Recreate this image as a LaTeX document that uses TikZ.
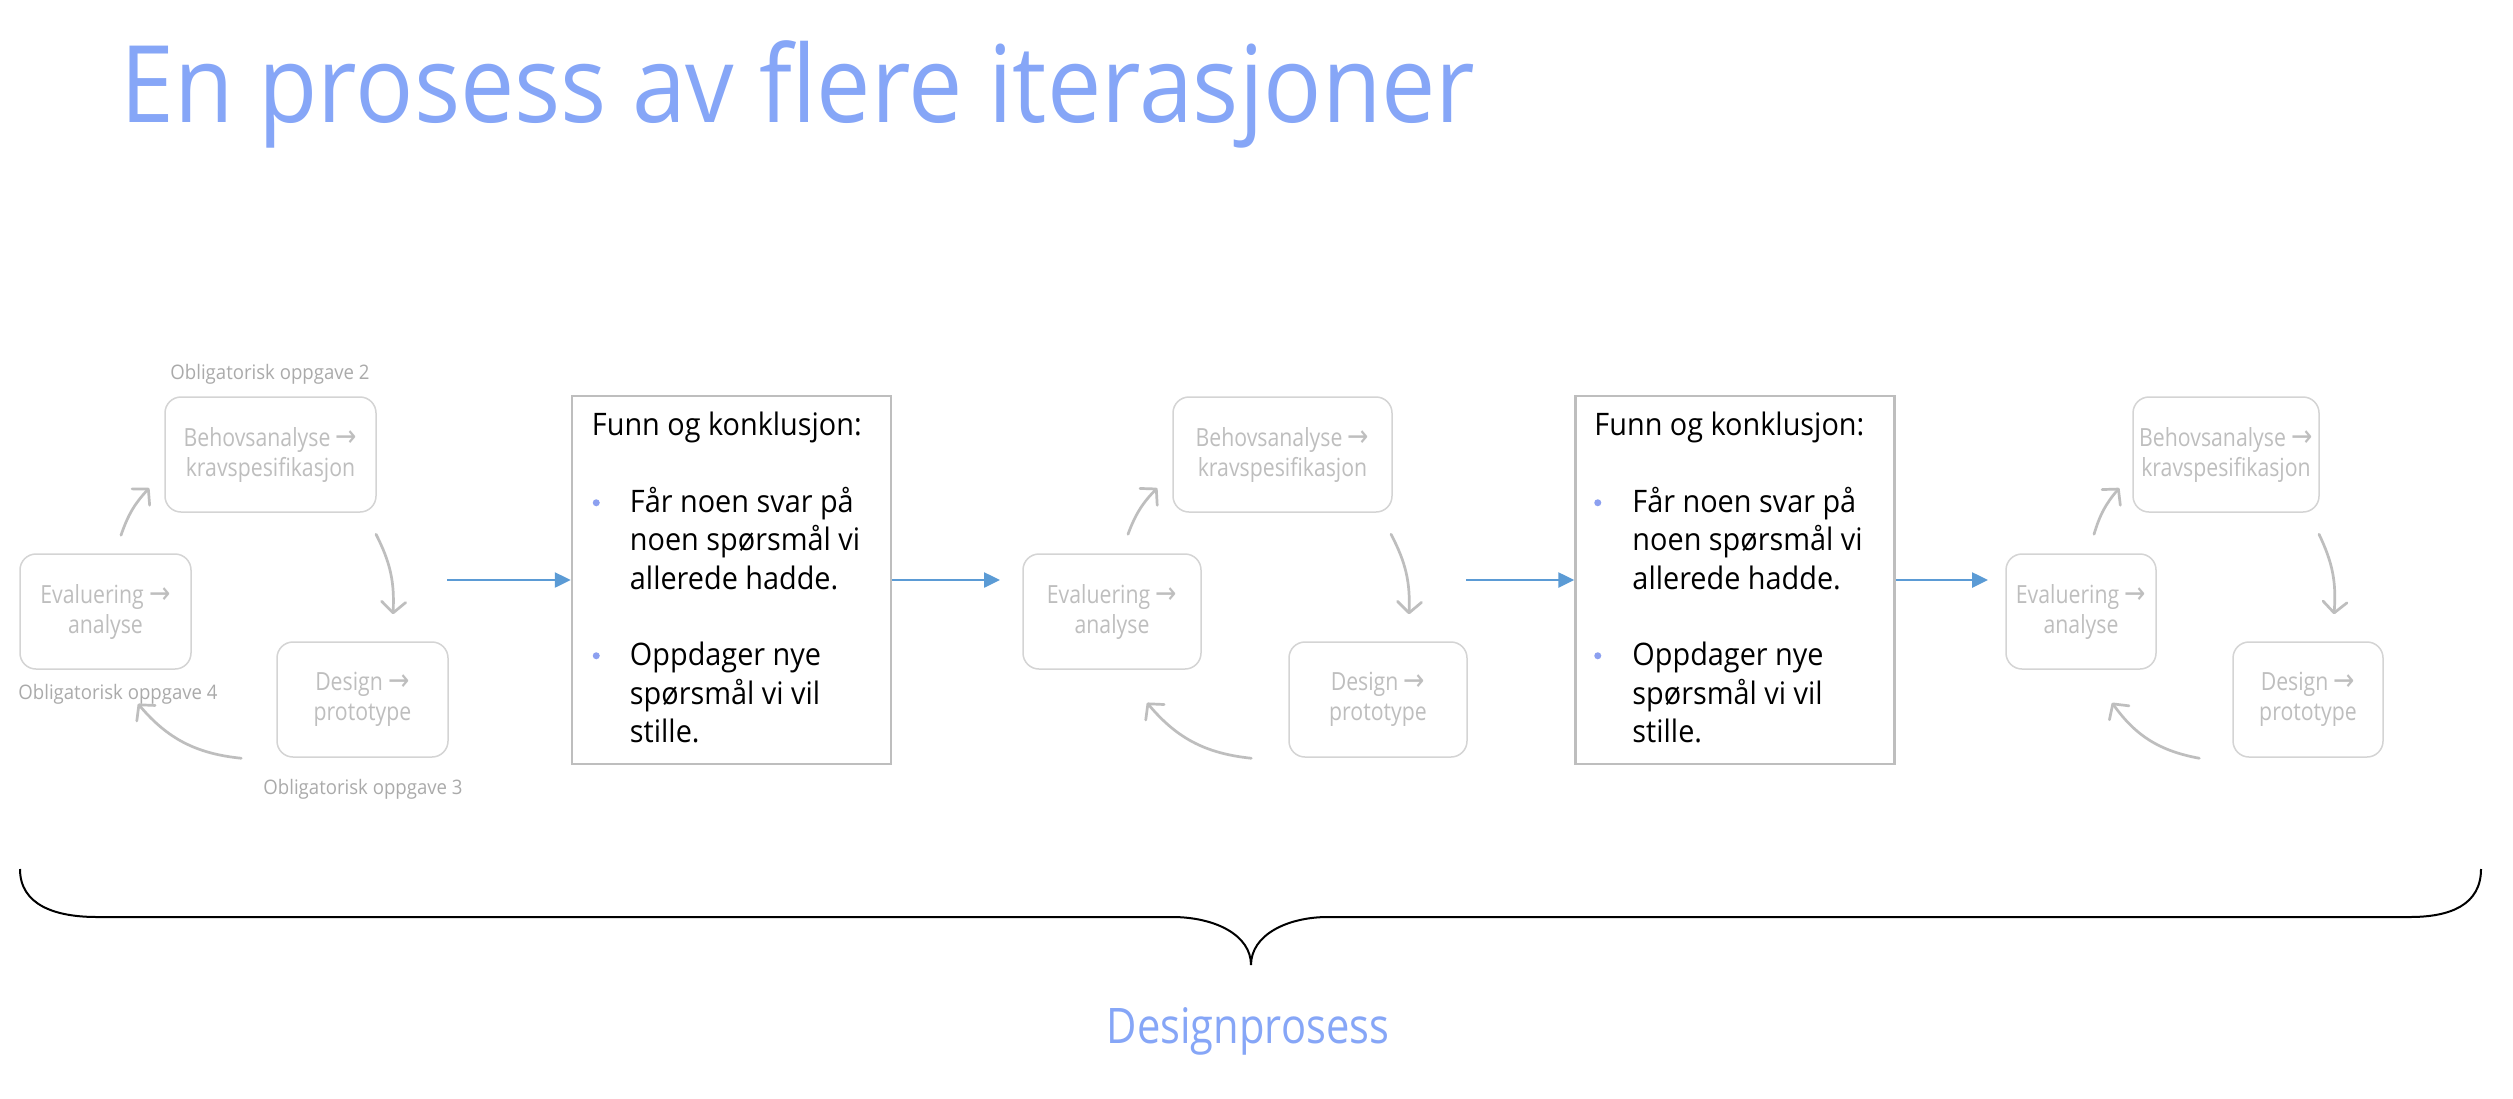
\documentclass[tikz,border=0pt]{standalone}
\usepackage{fontspec}
\setmainfont{Open Sans}[FakeStretch=0.93]
\newfontfamily\lightfont{Open Sans}[FakeStretch=0.85]
\newfontfamily\titlefont{Open Sans}[FakeStretch=0.905]
\newfontfamily\arrowfont{DejaVu Sans}[FakeStretch=0.85]
\usetikzlibrary{arrows.meta,calc}

\definecolor{titleblue}{RGB}{134,166,247}
\definecolor{flowblue}{RGB}{91,155,213}
\definecolor{bulletblue}{RGB}{140,160,240}
\definecolor{boxgray}{RGB}{212,212,212}
\definecolor{textgray}{RGB}{190,190,190}
\definecolor{labelgray}{RGB}{170,170,170}
\definecolor{arrowgray}{RGB}{190,190,190}
\definecolor{funngray}{RGB}{190,190,190}

\newcommand{\ra}{{\arrowfont\fontsize{30}{30}\selectfont →}}
\newcommand{\ind}{\hspace*{38pt}}

\begin{document}
\begin{tikzpicture}[x=1pt,y=-1pt,
  cyclebox/.style={draw=boxgray, line width=1.5pt, rounded corners=16pt,
    minimum height=115pt, inner sep=0pt, text=textgray, align=center,
    font=\lightfont\fontsize{25}{30}\selectfont},
  cyclelabel/.style={text=labelgray, anchor=base, inner sep=0pt,
    font=\fontsize{20}{24}\selectfont},
  cyclearrow/.style={draw=arrowgray, line width=2.7pt, line cap=round,
    -{Straight Barb[length=11pt,width=24pt,round]}},
  flowarrow/.style={draw=flowblue, line width=2.5pt,
    -{Triangle[length=16pt,width=15pt]}},
  funnbox/.style={draw=funngray, line width=2.5pt, minimum width=319pt,
    minimum height=368pt, inner sep=0pt},
  funntext/.style={anchor=base west, inner sep=0pt, align=left,
    font=\fontsize{31}{38.4}\selectfont},
  bulletdot/.style={fill=bulletblue},
  ]
\fill[white] (0,0) rectangle (2513,1098);
\useasboundingbox (0,0) rectangle (2513,1098);

% heading
\node[anchor=base west, inner sep=0pt, text=titleblue,
  font=\titlefont\fontsize{107}{112}\selectfont] (title) at (120,122)
  {En prosess av flere iterasjoner};

% first cycle
\node[cyclebox, minimum width=171pt] (e1) at (105.5,611.5) {Evaluering \ra\\analyse};
\node[cyclebox, minimum width=211pt] (b1) at (270.5,454.5) {Behovsanalyse \ra\\kravspesifikasjon};
\node[cyclebox, minimum width=171pt] (d1) at (362.5,699.5) {Design \ra\\prototype};
\node[cyclelabel] (l2) at (270,379) {Obligatorisk oppgave 2};
\node[cyclelabel] (l4) at (118,699) {Obligatorisk oppgave 4};
\node[cyclelabel] (l3) at (363,794) {Obligatorisk oppgave 3};

\coordinate (e1o) at ($(e1.north)+(15.5,-18)$);
\coordinate (b1i) at ($(b1.west)+(-15,33.5)$);
\coordinate (b1o) at ($(b1.south)+(105.5,21.5)$);
\coordinate (d1i) at ($(d1.north)+(30.5,-27)$);
\coordinate (d1o) at ($(d1.south west)+(-35,0.5)$);
\coordinate (e1i) at ($(e1.south)+(32.5,34)$);
\draw[cyclearrow] (e1o) to[bend left=12] (b1i);
\draw[cyclearrow] (b1o) to[bend left=15] (d1i);
\draw[cyclearrow] (d1o) to[bend left=22] (e1i);

% first findings box
\node[funnbox] (f1) at (731.5,580) {};
\node[funntext] (f1t) at ($(f1.north west)+(21,347.9)$)
  {Funn og konklusjon:\\[38.4pt]
   \ind Får noen svar på\\
   \ind noen spørsmål vi\\
   \ind allerede hadde.\\[38.4pt]
   \ind Oppdager nye\\
   \ind spørsmål vi vil\\
   \ind stille.};
\fill[bulletdot] ($(f1.north west)+(25.5,108)$) circle (3.5pt);
\fill[bulletdot] ($(f1.north west)+(25.5,261)$) circle (3.5pt);

% second cycle
\node[cyclebox, minimum width=178pt] (e2) at (1112,611.5) {Evaluering \ra\\analyse};
\node[cyclebox, minimum width=219pt] (b2) at (1282.5,454.5) {Behovsanalyse \ra\\kravspesifikasjon};
\node[cyclebox, minimum width=178pt] (d2) at (1378,699.5) {Design \ra\\prototype};

\coordinate (e2o) at ($(e2.north)+(16,-19)$);
\coordinate (b2i) at ($(b2.west)+(-15,33.5)$);
\coordinate (b2o) at ($(b2.south)+(108.5,21.5)$);
\coordinate (d2i) at ($(d2.north)+(31,-27)$);
\coordinate (d2o) at ($(d2.south west)+(-37,0.5)$);
\coordinate (e2i) at ($(e2.south)+(35,33)$);
\draw[cyclearrow] (e2o) to[bend left=12] (b2i);
\draw[cyclearrow] (b2o) to[bend left=15] (d2i);
\draw[cyclearrow] (d2o) to[bend left=22] (e2i);

% second findings box
\node[funnbox] (f2) at (1735,580) {};
\node[funntext] (f2t) at ($(f2.north west)+(20,347.9)$)
  {Funn og konklusjon:\\[38.4pt]
   \ind Får noen svar på\\
   \ind noen spørsmål vi\\
   \ind allerede hadde.\\[38.4pt]
   \ind Oppdager nye\\
   \ind spørsmål vi vil\\
   \ind stille.};
\fill[bulletdot] ($(f2.north west)+(23.5,108)$) circle (3.5pt);
\fill[bulletdot] ($(f2.north west)+(23.5,261)$) circle (3.5pt);

% third cycle
\node[cyclebox, minimum width=150pt] (e3) at (2081,611.5) {Evaluering \ra\\analyse};
\node[cyclebox, minimum width=186pt] (b3) at (2226,454.5) {Behovsanalyse \ra\\kravspesifikasjon};
\node[cyclebox, minimum width=150pt] (d3) at (2308,699.5) {Design \ra\\prototype};

\coordinate (e3o) at ($(e3.north)+(13,-19)$);
\coordinate (b3i) at ($(b3.west)+(-13,33.5)$);
\coordinate (b3o) at ($(b3.south)+(93,21.5)$);
\coordinate (d3i) at ($(d3.north)+(26,-27)$);
\coordinate (d3o) at ($(d3.south west)+(-33,0.5)$);
\coordinate (e3i) at ($(e3.south)+(31,33)$);
\draw[cyclearrow] (e3o) to[bend left=12] (b3i);
\draw[cyclearrow] (b3o) to[bend left=15] (d3i);
\draw[cyclearrow] (d3o) to[bend left=22] (e3i);

% flow between the stages
\coordinate (s1) at (447,580);
\coordinate (t1) at (1000,580);
\coordinate (s2) at (1466,580);
\coordinate (t2) at (1988,580);
\draw[flowarrow] (s1) -- (f1.west);
\draw[flowarrow] (f1.east) -- (t1);
\draw[flowarrow] (s2) -- (f2.west);
\draw[flowarrow] (f2.east) -- (t2);

% brace under the whole process
\coordinate (bl) at (20,869);
\coordinate (br) at (2481,869);
\coordinate (bt) at (1251,965);
\draw[line width=2pt, black]
  (bl) .. controls (20,905) and (55,917) .. (97,917) -- (1172,917)
  .. controls (1215,917) and (1251,935) .. (bt)
  .. controls (1251,935) and (1287,917) .. (1328,917) -- (2410,917)
  .. controls (2450,917) and (2481,905) .. (br);
\node[anchor=base, inner sep=0pt, text=titleblue,
  font=\lightfont\fontsize{49}{54}\selectfont] (dp) at (1248,1043) {Designprosess};
\end{tikzpicture}
\end{document}
